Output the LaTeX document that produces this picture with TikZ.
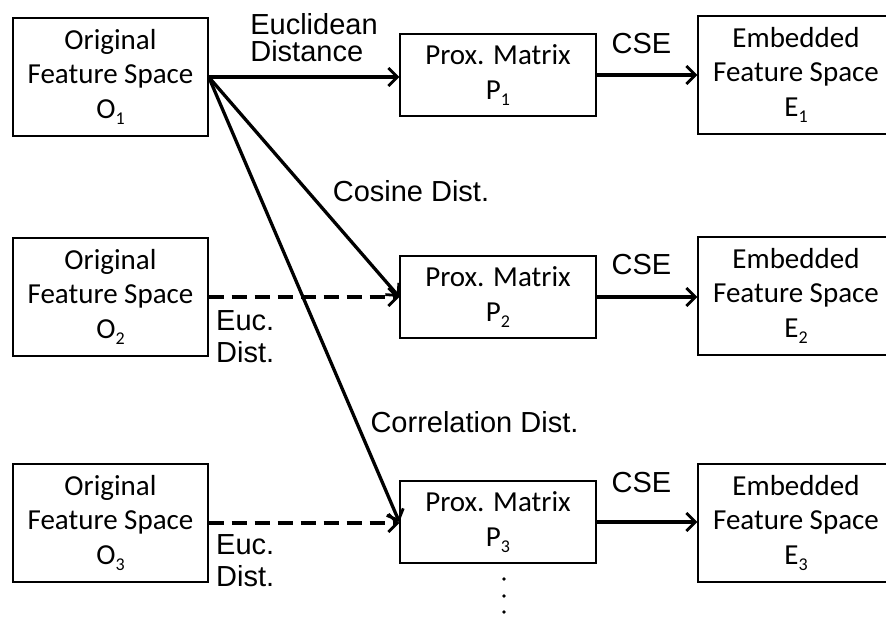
\documentclass[tikz,border=0pt]{standalone}
\usepackage{fontspec}
\setmainfont{Carlito}
\newfontfamily\labelfont{Liberation Sans}
\usetikzlibrary{arrows.meta}
\newcommand\lowsub[1]{\raisebox{-0.45ex}{\fontsize{18}{18}\selectfont #1}}
\tikzset{
  box/.style={draw, line width=1.4pt, align=center, inner sep=0pt,
    font=\fontsize{29}{34.5}\selectfont},
  origbox/.style={box, minimum width=195pt, minimum height=118pt},
  proxbox/.style={box, minimum width=196pt, minimum height=82pt},
  embbox/.style={box, minimum width=196pt, minimum height=118pt},
  lbl/.style={font=\labelfont\fontsize{29}{32}\selectfont, inner sep=0pt, align=left},
  link/.style={line width=3.3pt, -{Straight Barb[length=9pt,width=18pt,line width=2.8pt]}},
  dlink/.style={link, dash pattern=on 15pt off 8pt},
}
\begin{document}
\begin{tikzpicture}[x=1pt,y=-1pt]
\useasboundingbox (0,0) rectangle (886,617);

% input feature spaces
\node[origbox] (o1) at (110.5,77) {Original\\Feature Space\\O\lowsub{1}};
\node[origbox] (o2) at (110.5,297) {Original\\Feature Space\\O\lowsub{2}};
\node[origbox] (o3) at (110.5,523) {Original\\Feature Space\\O\lowsub{3}};

% proximity matrices
\node[proxbox] (p1) at (498,75) {Prox. Matrix\\P\lowsub{1}};
\node[proxbox] (p2) at (498,297) {Prox. Matrix\\P\lowsub{2}};
\node[proxbox] (p3) at (498,522) {Prox. Matrix\\P\lowsub{3}};

% embedded spaces (cut by the right border)
\node[embbox] (e1) at (796,75) {Embedded\\Feature Space\\E\lowsub{1}};
\node[embbox] (e2) at (796,296) {Embedded\\Feature Space\\E\lowsub{2}};
\node[embbox] (e3) at (796,523) {Embedded\\Feature Space\\E\lowsub{3}};

% distance computations
\draw[link] (o1.east) -- (p1.west |- o1.east);
\draw[link] (o1.east) -- (p2.west);
\draw[link] (o1.east) -- (p3.west);
\draw[dlink] (o2.east) -- (p2.west);
\draw[dlink] (o3.east) -- (p3.west |- o3.east);

% embeddings
\draw[link] (p1.east) -- (e1.west |- p1.east);
\draw[link] (p2.east) -- (e2.west |- p2.east);
\draw[link] (p3.east) -- (e3.west |- p3.east);

% labels
\node[lbl, font=\labelfont\fontsize{29}{27}\selectfont] (leuc) at (314,38) {Euclidean\\Distance};
\node[lbl] (lcos) at (411,191) {Cosine Dist.};
\node[lbl] (lcor) at (474.5,422) {Correlation Dist.};
\node[lbl, anchor=west] (leu2) at (216,337) {Euc.\\Dist.};
\node[lbl, anchor=west] (leu3) at (216,561) {Euc.\\Dist.};
\node[lbl] (cse1) at (641.5,43.5) {CSE};
\node[lbl] (cse2) at (641.5,265) {CSE};
\node[lbl] (cse3) at (641.5,483) {CSE};

% continuation dots
\foreach \yy in {579,596,612}
  \fill (504,\yy) circle (1.8pt);
\end{tikzpicture}
\end{document}
